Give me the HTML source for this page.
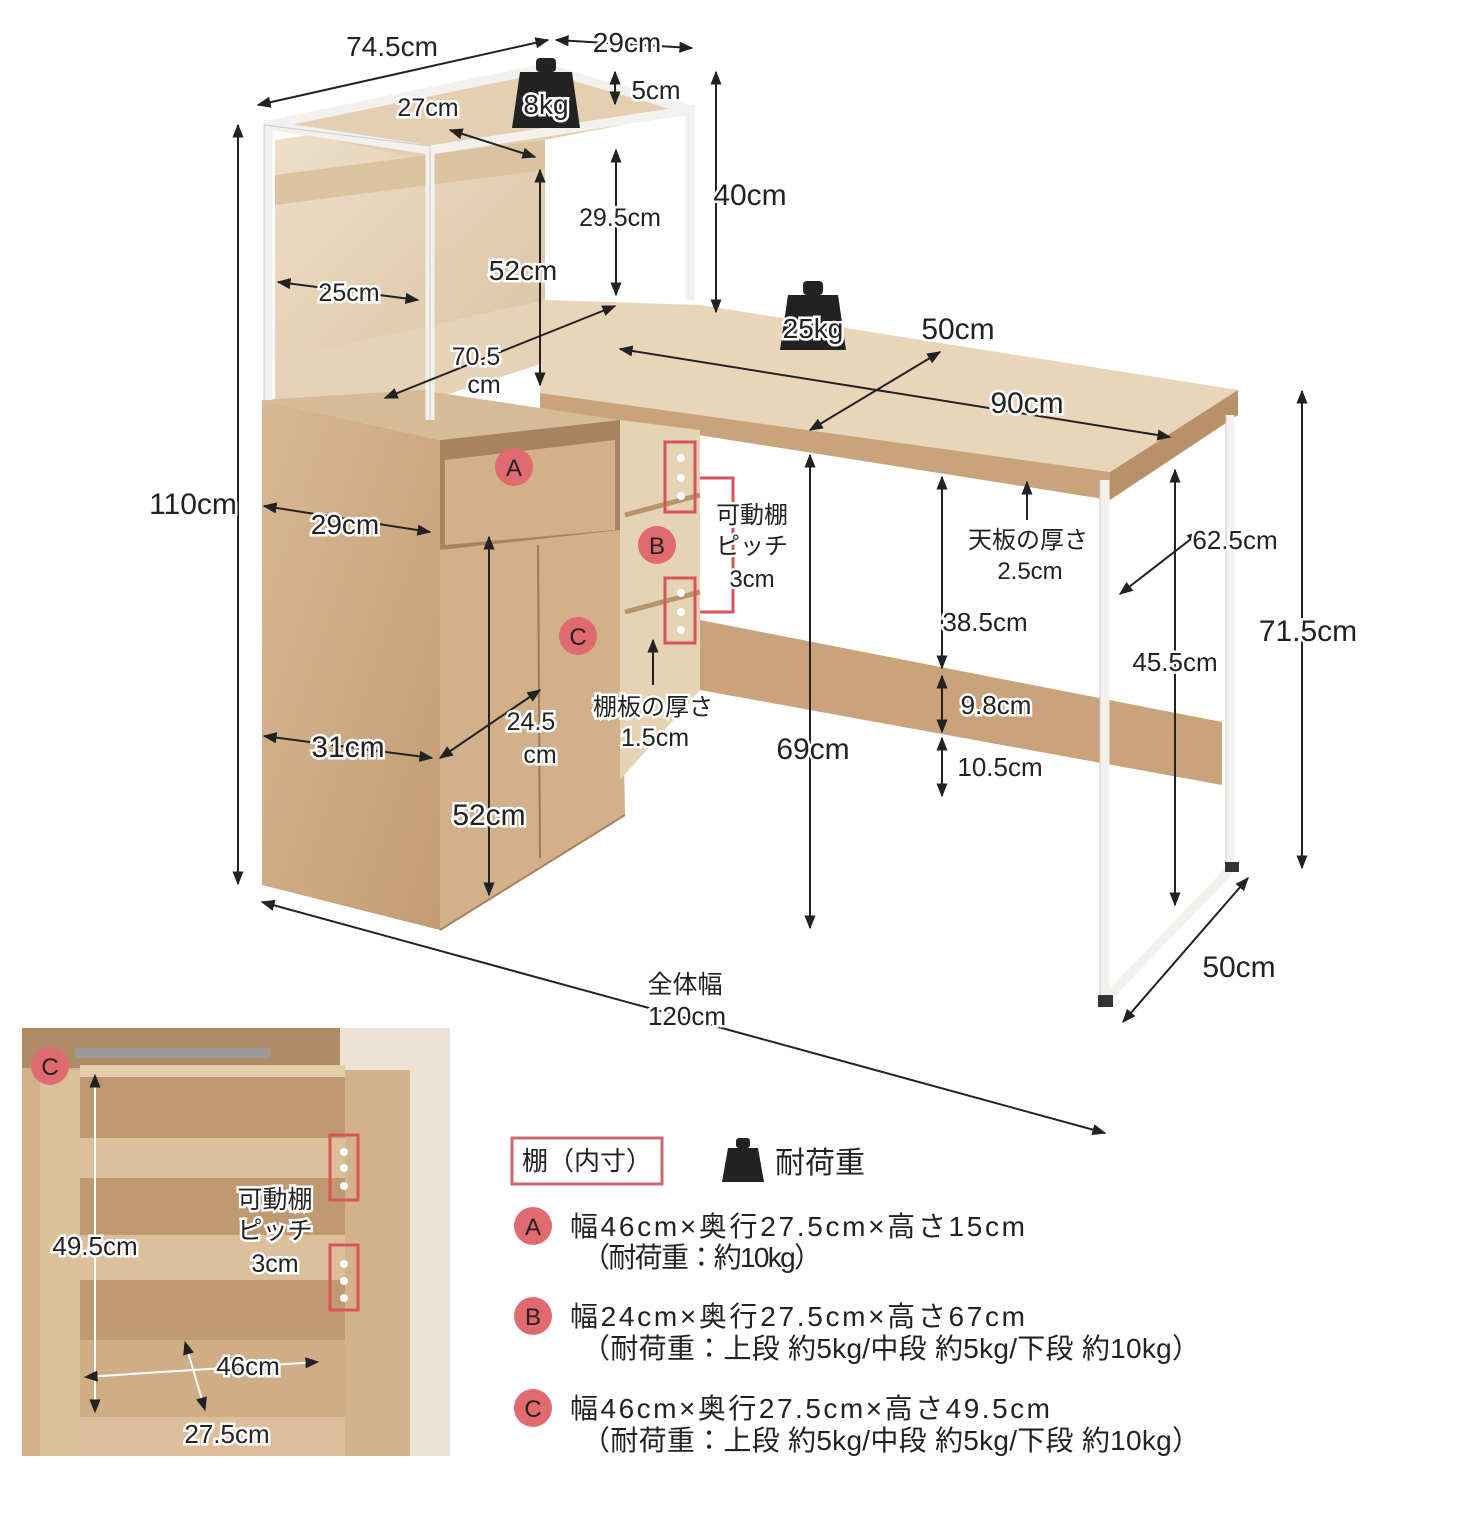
<!DOCTYPE html>
<html><head><meta charset="utf-8"><style>
html,body{margin:0;padding:0;background:#fff}
svg{display:block}
text{font-family:"Liberation Sans","Noto Sans CJK JP",sans-serif;fill:#222}
</style></head><body>
<svg width="1478" height="1536" viewBox="0 0 1478 1536" xmlns="http://www.w3.org/2000/svg">
<defs>
<marker id="a" viewBox="0 0 10 10" refX="9" refY="5" markerWidth="7" markerHeight="7" orient="auto-start-reverse"><path d="M0,1 L10,5 L0,9 z" fill="#222"/></marker>
<linearGradient id="w" x1="0" y1="0" x2="1" y2="1"><stop offset="0" stop-color="#d8b994"/><stop offset="1" stop-color="#c29c72"/></linearGradient>
<linearGradient id="lw" x1="0" y1="0" x2="1" y2="1"><stop offset="0" stop-color="#efe0cc"/><stop offset="1" stop-color="#dcc3a3"/></linearGradient>
</defs>
<rect width="1478" height="1536" fill="#fff"/>

<polygon points="275,140 545,100 545,300 430,330 275,360" fill="url(#lw)"/>
<polygon points="268,125 545,68 690,112 430,162" fill="#e4cfb2"/>
<polygon points="275,175 545,140 545,170 275,205" fill="#dcc3a0"/>
<polygon points="275,360 545,300 700,312 430,400 275,400" fill="#e6d2b6"/>
<polygon points="545,300 700,305 1238,390 1110,472 540,393" fill="#e8d5ba"/>
<polygon points="540,393 1110,472 1110,500 540,410" fill="#c9a47b"/>
<polygon points="1110,472 1238,390 1238,415 1110,500" fill="#b99168"/>
<polygon points="700,620 1222,722 1222,785 700,690" fill="#caa37a"/>
<polygon points="262,400 440,440 440,930 262,885" fill="url(#w)"/>
<polygon points="262,400 420,390 620,420 440,440" fill="#d7bb96"/>
<polygon points="440,440 620,420 620,540 440,550" fill="#a88360"/>
<polygon points="445,460 615,440 615,530 445,545" fill="#d2b18a"/>
<polygon points="440,550 620,530 625,815 440,930" fill="#d2b08a"/>
<line x1="538" y1="545" x2="540" y2="858" stroke="#9e7b58" stroke-width="2"/>
<polygon points="620,420 700,430 700,690 620,780" fill="#e6d2b4"/>
<line x1="625" y1="515" x2="700" y2="495" stroke="#b8946d" stroke-width="5"/>
<line x1="625" y1="612" x2="700" y2="592" stroke="#b8946d" stroke-width="5"/>
<line x1="440" y1="930" x2="625" y2="815" stroke="#a88360" stroke-width="2"/>
<g stroke="#f3f1ee" stroke-width="9" fill="none">
<path d="M268,400 L268,125 L430,150 L430,420"/>
<path d="M430,150 L690,110 L690,300"/>
<path d="M268,125 L545,68 L690,110"/>
<path d="M1105,480 L1105,1000 M1230,415 L1230,870 M1105,1000 L1230,870"/>
</g>
<g stroke="#ccc" stroke-width="1" fill="none">
<path d="M264,400 L264,125 L430,146 L430,420 M1100,480 L1100,1000 M1226,415 L1226,870"/>
</g>
<rect x="1098" y="995" width="15" height="12" fill="#333"/>
<rect x="1225" y="862" width="14" height="10" fill="#333"/>

<g fill="#222"><rect x="536" y="58" width="20" height="14" rx="4"/><path d="M520,72 L572,72 L580,128 L512,128 z"/></g>
<text x="546" y="114" font-size="28" text-anchor="middle" fill="#fff" stroke="#fff" stroke-width="5">8kg</text>
<text x="546" y="114" font-size="28" text-anchor="middle">8kg</text>
<g fill="#222"><rect x="803" y="281" width="20" height="14" rx="4"/><path d="M788,295 L838,295 L846,350 L780,350 z"/></g>
<text x="813" y="338" font-size="28" text-anchor="middle" fill="#fff" stroke="#fff" stroke-width="5">25kg</text>
<text x="813" y="338" font-size="28" text-anchor="middle">25kg</text>

<g stroke="#222" stroke-width="2" marker-start="url(#a)" marker-end="url(#a)">
<line x1="258" y1="105" x2="548" y2="40"/>
<line x1="556" y1="40" x2="692" y2="48"/>
<line x1="615" y1="72" x2="615" y2="104"/>
<line x1="716" y1="72" x2="716" y2="312"/>
<line x1="450" y1="130" x2="535" y2="157"/>
<line x1="616" y1="150" x2="616" y2="295"/>
<line x1="540" y1="170" x2="540" y2="385"/>
<line x1="278" y1="282" x2="418" y2="300"/>
<line x1="385" y1="398" x2="615" y2="306"/>
<line x1="238" y1="125" x2="238" y2="884"/>
<line x1="620" y1="349" x2="1170" y2="437"/>
<line x1="810" y1="430" x2="940" y2="352"/>
<line x1="264" y1="506" x2="430" y2="532"/>
<line x1="264" y1="736" x2="432" y2="758"/>
<line x1="440" y1="758" x2="540" y2="690"/>
<line x1="489" y1="537" x2="489" y2="895"/>
<line x1="810" y1="455" x2="810" y2="928"/>
<line x1="942" y1="477" x2="942" y2="668"/>
<line x1="942" y1="676" x2="942" y2="732"/>
<line x1="942" y1="738" x2="942" y2="796"/>
<line x1="1175" y1="470" x2="1175" y2="905"/>
<line x1="1120" y1="594" x2="1200" y2="532"/>
<line x1="1302" y1="391" x2="1302" y2="868"/>
<line x1="1123" y1="1022" x2="1248" y2="878"/>
<line x1="262" y1="902" x2="1105" y2="1133"/>
</g>
<g stroke="#222" stroke-width="2" marker-end="url(#a)">
<line x1="1027" y1="520" x2="1027" y2="482"/>
<line x1="653" y1="685" x2="653" y2="640"/>
</g>
<g stroke="#d9535a" stroke-width="3" fill="none">
<rect x="665" y="442" width="30" height="70"/><rect x="665" y="578" width="30" height="65"/>
<path d="M700,478 L733,478 L733,612 L700,612"/>
</g>
<g fill="#fff"><circle cx="681" cy="458" r="4"/><circle cx="681" cy="478" r="4"/><circle cx="681" cy="496" r="4"/><circle cx="681" cy="593" r="4"/><circle cx="681" cy="612" r="4"/><circle cx="681" cy="630" r="4"/></g>

<g fill="#e06a70"><circle cx="514" cy="467" r="19"/><circle cx="657" cy="545" r="19"/><circle cx="578" cy="636" r="19"/></g>
<g font-size="24" fill="#fff" text-anchor="middle"><text x="514" y="476" fill="#fff">A</text><text x="657" y="554" fill="#fff">B</text><text x="578" y="645" fill="#fff">C</text></g>

<g font-size="28" text-anchor="middle" paint-order="stroke" stroke="#fff" stroke-width="5">
<text x="392" y="56">74.5cm</text>
<text x="627" y="52">29cm</text>
<text x="656" y="99" font-size="26">5cm</text>
<text x="428" y="116" font-size="25">27cm</text>
<text x="750" y="205" font-size="30">40cm</text>
<text x="620" y="226" font-size="25">29.5cm</text>
<text x="523" y="280">52cm</text>
<text x="349" y="301" font-size="25">25cm</text>
<text x="476" y="365" font-size="25">70.5</text>
<text x="484" y="393" font-size="25">cm</text>
<text x="958" y="339" font-size="30">50cm</text>
<text x="1027" y="413" font-size="30">90cm</text>
<text x="193" y="514" font-size="30">110cm</text>
<text x="345" y="534">29cm</text>
<text x="752" y="523" font-size="24">可動棚</text>
<text x="752" y="554" font-size="24">ピッチ</text>
<text x="752" y="587" font-size="24">3cm</text>
<text x="1028" y="548" font-size="24">天板の厚さ</text>
<text x="1030" y="579" font-size="24">2.5cm</text>
<text x="1235" y="549" font-size="26">62.5cm</text>
<text x="1308" y="641" font-size="30">71.5cm</text>
<text x="985" y="631" font-size="26">38.5cm</text>
<text x="1175" y="671" font-size="26">45.5cm</text>
<text x="653" y="715" font-size="24">棚板の厚さ</text>
<text x="655" y="746" font-size="25">1.5cm</text>
<text x="996" y="714" font-size="26">9.8cm</text>
<text x="531" y="730" font-size="25">24.5</text>
<text x="540" y="763" font-size="25">cm</text>
<text x="348" y="757" font-size="30">31cm</text>
<text x="813" y="759" font-size="30">69cm</text>
<text x="1000" y="776" font-size="26">10.5cm</text>
<text x="489" y="825" font-size="30">52cm</text>
<text x="1239" y="977" font-size="30">50cm</text>
<text x="685" y="993" font-size="25">全体幅</text>
<text x="687" y="1025" font-size="26">120cm</text>
</g>

<rect x="22" y="1028" width="428" height="428" fill="#d2b08a"/>
<rect x="22" y="1028" width="428" height="40" fill="#b08c66"/>
<rect x="340" y="1028" width="110" height="428" fill="#ede3d4"/>
<rect x="80" y="1065" width="265" height="12" fill="#e4cdab"/>
<rect x="80" y="1077" width="265" height="340" fill="#bf9a70"/>
<rect x="80" y="1138" width="265" height="40" fill="#dcc09c"/>
<rect x="80" y="1235" width="265" height="45" fill="#dcc09c"/>
<rect x="80" y="1340" width="265" height="77" fill="#cfae86"/>
<rect x="40" y="1070" width="40" height="386" fill="#dcc09a"/>
<rect x="345" y="1070" width="65" height="386" fill="#d3b38c"/>
<rect x="80" y="1417" width="265" height="39" fill="#dcbf9a"/>
<rect x="75" y="1048" width="195" height="10" fill="#9a9a9a"/>
<g stroke="#d9535a" stroke-width="3" fill="none"><rect x="330" y="1135" width="28" height="65"/><rect x="330" y="1245" width="28" height="65"/></g>
<g fill="#fff"><circle cx="344" cy="1152" r="4"/><circle cx="344" cy="1168" r="4"/><circle cx="344" cy="1186" r="4"/><circle cx="344" cy="1264" r="4"/><circle cx="344" cy="1281" r="4"/><circle cx="344" cy="1298" r="4"/></g>
<circle cx="50" cy="1066" r="19" fill="#e06a70"/><text x="50" y="1075" font-size="24" text-anchor="middle" fill="#fff">C</text>
<g stroke="#fff" stroke-width="2" marker-start="url(#a)" marker-end="url(#a)">
<line x1="95" y1="1075" x2="95" y2="1412"/><line x1="85" y1="1377" x2="318" y2="1362"/><line x1="185" y1="1342" x2="205" y2="1410"/>
</g>
<g font-size="26" text-anchor="middle" paint-order="stroke" stroke="#fff" stroke-width="5">
<text x="95" y="1255">49.5cm</text><text x="275" y="1208" font-size="25">可動棚</text><text x="275" y="1239" font-size="25">ピッチ</text><text x="275" y="1272" font-size="25">3cm</text>
<text x="248" y="1375">46cm</text><text x="227" y="1443">27.5cm</text>
</g>

<rect x="512" y="1138" width="150" height="46" fill="#fff" stroke="#c96a6f" stroke-width="3"/>
<text x="587" y="1170" font-size="26" text-anchor="middle">棚（内寸）</text>
<g fill="#222"><rect x="736" y="1138" width="14" height="10" rx="3"/><path d="M728,1148 L758,1148 L764,1182 L722,1182 z"/></g>
<text x="775" y="1173" font-size="30">耐荷重</text>
<g fill="#e06a70"><circle cx="533" cy="1226" r="19"/><circle cx="533" cy="1316" r="19"/><circle cx="533" cy="1408" r="19"/></g>
<g font-size="24" fill="#fff" text-anchor="middle"><text x="533" y="1235" fill="#fff">A</text><text x="533" y="1325" fill="#fff">B</text><text x="533" y="1417" fill="#fff">C</text></g>
<g font-size="28">
<text x="570" y="1236" textLength="455" lengthAdjust="spacing">幅46cm×奥行27.5cm×高さ15cm</text>
<text x="582" y="1267" textLength="240" lengthAdjust="spacing">（耐荷重：約10kg）</text>
<text x="570" y="1326" textLength="455" lengthAdjust="spacing">幅24cm×奥行27.5cm×高さ67cm</text>
<text x="582" y="1358" textLength="618" lengthAdjust="spacing">（耐荷重：上段 約5kg/中段 約5kg/下段 約10kg）</text>
<text x="570" y="1418" textLength="480" lengthAdjust="spacing">幅46cm×奥行27.5cm×高さ49.5cm</text>
<text x="582" y="1450" textLength="618" lengthAdjust="spacing">（耐荷重：上段 約5kg/中段 約5kg/下段 約10kg）</text>
</g>
</svg>
</body></html>
